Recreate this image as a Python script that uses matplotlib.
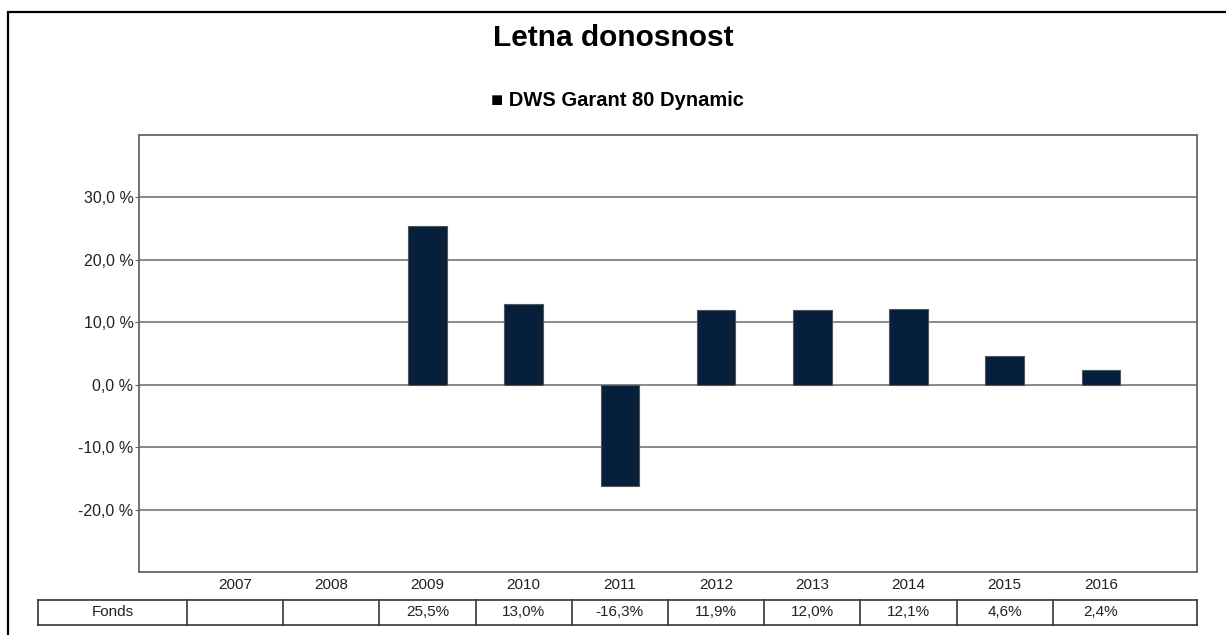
# -*- coding: utf-8 -*-
"""
Letna donosnost - DWS Garant 80 Dynamic
"""
import numpy as np
import matplotlib
matplotlib.use('Agg')
import matplotlib.pyplot as plt
from matplotlib.patches import Rectangle
from matplotlib.lines import Line2D

plt.rcParams['font.family'] = ['Liberation Sans', 'DejaVu Sans']

#data
years = ['2007', '2008', '2009', '2010', '2011', '2012', '2013', '2014', '2015', '2016']
fonds = [np.nan, np.nan, 25.5, 13.0, -16.3, 11.9, 12.0, 12.1, 4.6, 2.4]
fonds_txt = ['', '', '25,5%', '13,0%', '-16,3%', '11,9%', '12,0%', '12,1%', '4,6%', '2,4%']
yticks = [-20, -10, 0, 10, 20, 30]
row_name = 'Fonds'
title = 'Letna donosnost'
series_name = 'DWS Garant 80 Dynamic'

W, H = 1226, 635
fig = plt.figure(figsize=(W/100, H/100), dpi=100)

#outer frame
fig.patches.append(Rectangle((8/W, -0.05), 1.1, 1 - 12/H + 0.05, transform=fig.transFigure,
                             fill=False, edgecolor='black', linewidth=1.6, clip_on=False))

ax = fig.add_axes([139/W, (H-572)/H, (1197-139)/W, (572-135)/H])
x = np.arange(len(years))
ax.bar(x, fonds, width=0.4, color='#061f3b', edgecolor='#555555', linewidth=0.8, zorder=3)

ax.set_xlim(-1, len(years))
ax.set_ylim(-30, 40)
ax.set_yticks(yticks)
ax.yaxis.set_major_formatter(matplotlib.ticker.FuncFormatter(lambda v, p: ('%.1f %%' % v).replace('.', ',')))
ax.grid(axis='y', color='#808080', linewidth=1.3, zorder=1)
ax.tick_params(axis='y', length=3, color='#666666', labelsize=11.5, labelcolor='#222222', pad=1)
ax.set_xticks(x)
ax.set_xticklabels(years)
ax.tick_params(axis='x', length=0, labelsize=11, labelcolor='#222222', pad=4)
for s in ax.spines.values():
    s.set_color('#666666')
    s.set_linewidth(1.3)

#table under the chart
y0, y1 = -(600-572)/(572-135), -(625-572)/(572-135)
trans = matplotlib.transforms.blended_transform_factory(ax.transData, ax.transAxes)
left = ax.transData.inverted().transform(ax.transAxes.transform((0, 0)))[0]
xl = left - (139-38)/((1197-139)/(len(years)+1))
edges = [xl] + [i - 0.5 for i in range(len(years))] + [len(years)]
for yy in (y0, y1):
    ax.add_line(Line2D([edges[0], edges[-1]], [yy, yy], transform=trans, color='#333333',
                       linewidth=1.2, clip_on=False))
for e in edges:
    ax.add_line(Line2D([e, e], [y0, y1], transform=trans, color='#333333',
                       linewidth=1.2, clip_on=False))
ym = (y0 + y1) / 2
ax.text((edges[0] + edges[1]) / 2, ym, row_name, transform=trans, ha='center', va='center',
        fontsize=11, color='#222222')
for i, t in enumerate(fonds_txt):
    ax.text(i, ym, t, transform=trans, ha='center', va='center',
            fontsize=11, color='#222222')

fig.text(0.5, 1 - 38/H, title, ha='center', va='center', fontsize=21.5, fontweight='bold')
fig.text(617/W, 1 - 101/H, '\u25a0 ' + series_name, ha='center', va='center', fontsize=14.5,
         fontweight='bold', family=['Liberation Sans', 'DejaVu Sans'])

fig.savefig('out.png', dpi=100)
